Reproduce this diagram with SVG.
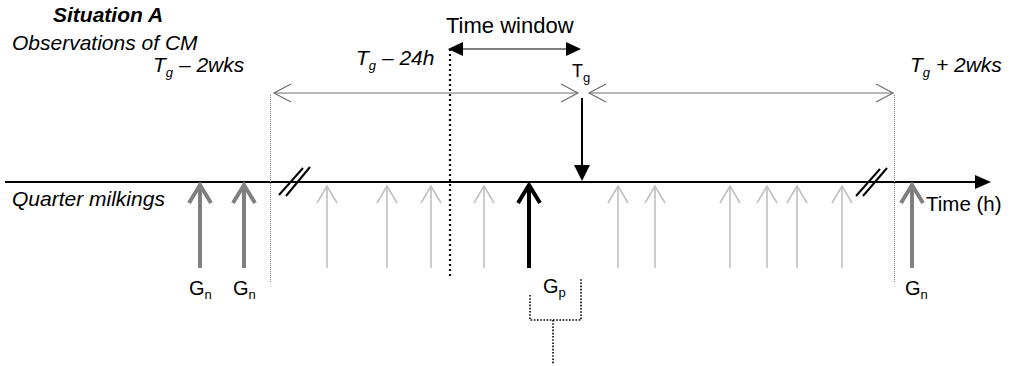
<svg xmlns="http://www.w3.org/2000/svg" width="1015" height="366" viewBox="0 0 1015 366">
<defs>
<style>
text{font-family:"Liberation Sans",Arial,sans-serif;fill:#000}
.it{font-style:italic;font-size:21px}
.lab{font-size:20px}
.sub{font-size:13px}
.gray{stroke:#6e6e6e;stroke-width:1.2;fill:none}
.open{fill:none;stroke-linecap:butt;stroke-linejoin:miter}
.dk{stroke:#808080;stroke-width:4}
.lt{stroke:#c0c0c0;stroke-width:1.6}
.bk{stroke:#000;stroke-width:4}
</style>
</defs>
<rect width="1015" height="366" fill="#fff"/>
<g id="labels">
<text x="53" y="22" class="it" font-weight="bold">Situation A</text>
<text x="12" y="50" class="it">Observations of CM</text>
<text x="12" y="206" class="it">Quarter milkings</text>
<text x="153" y="72" class="it">T<tspan class="sub" dy="5">g</tspan><tspan dy="-5"> – 2wks</tspan></text>
<text x="356" y="65" class="it">T<tspan class="sub" dy="5">g</tspan><tspan dy="-5"> – 24h</tspan></text>
<text x="910" y="72" class="it">T<tspan class="sub" dy="5">g</tspan><tspan dy="-5"> + 2wks</tspan></text>
<text x="446" y="33" font-size="22">Time window</text>
<text x="926" y="211" font-size="20.5">Time (h)</text>
</g>
<g id="connectors">
<line x1="5" y1="182" x2="977" y2="182" stroke="#000" stroke-width="2"/>
<polygon points="975,175 991,182 975,189" fill="#000"/>
<g stroke="#000" stroke-width="2">
<line x1="279" y1="195" x2="303" y2="168"/>
<line x1="286" y1="196" x2="310" y2="167"/>
<line x1="856" y1="196" x2="880" y2="169"/>
<line x1="863" y1="196" x2="887" y2="168"/>
</g>
<g class="gray">
<line x1="274" y1="93" x2="578" y2="93"/>
<polyline points="291,84 274,93 291,102"/>
<polyline points="561,84 578,93 561,102"/>
<line x1="589" y1="93" x2="893" y2="93"/>
<polyline points="606,84 589,93 606,102"/>
<polyline points="876,84 893,93 876,102"/>
</g>
<line x1="270.5" y1="95" x2="270.5" y2="283" stroke="#808080" stroke-width="1" stroke-dasharray="1,1"/>
<line x1="894.5" y1="95" x2="894.5" y2="283" stroke="#808080" stroke-width="1" stroke-dasharray="1,1"/>
<line x1="450" y1="49" x2="450" y2="277" stroke="#000" stroke-width="2.2" stroke-dasharray="2,3"/>
<line x1="460" y1="49" x2="569" y2="49" stroke="#000" stroke-width="1"/>
<polygon points="448,49 463,42 463,56" fill="#000"/>
<polygon points="581,49 566,42 566,56" fill="#000"/>
<line x1="582" y1="98" x2="582" y2="166" stroke="#000" stroke-width="2"/>
<polygon points="574,165 590,165 582,181" fill="#000"/>
<g stroke="#000" stroke-width="1.6" stroke-dasharray="1.6,1.6" fill="none">
<polyline points="530,295 530,320 581,320 581,279"/>
<line x1="553" y1="320" x2="553" y2="364"/>
</g>
</g>
<g id="milk-gn1"><line class="dk" x1="200" y1="186" x2="200" y2="268"/><polyline class="dk open" points="189,203 200,185 211,203"/><text x="189" y="295" class="lab">G<tspan class="sub" dy="4">n</tspan></text></g>
<g id="milk-gn2"><line class="dk" x1="244" y1="186" x2="244" y2="268"/><polyline class="dk open" points="233,203 244,185 255,203"/><text x="233" y="295" class="lab">G<tspan class="sub" dy="4">n</tspan></text></g>
<g id="milk-gn3"><line class="dk" x1="912" y1="186" x2="912" y2="268"/><polyline class="dk open" points="901,203 912,185 923,203"/><text x="905" y="295" class="lab">G<tspan class="sub" dy="4">n</tspan></text></g>
<g id="milk-gp"><line class="bk" x1="529" y1="186" x2="529" y2="268"/><polyline class="bk open" points="518,203 529,185 540,203"/><text x="543" y="293" class="lab">G<tspan class="sub" dy="4">p</tspan></text></g>
<g id="milk-light">
<g class="lt" fill="none">
<line x1="327" y1="187" x2="327" y2="268"/><polyline points="317,203 327,186 337,203"/>
<line x1="387" y1="187" x2="387" y2="268"/><polyline points="377,203 387,186 397,203"/>
<line x1="431" y1="187" x2="431" y2="268"/><polyline points="421,203 431,186 441,203"/>
<line x1="484" y1="187" x2="484" y2="268"/><polyline points="474,203 484,186 494,203"/>
<line x1="618" y1="187" x2="618" y2="268"/><polyline points="608,203 618,186 628,203"/>
<line x1="655" y1="187" x2="655" y2="268"/><polyline points="645,203 655,186 665,203"/>
<line x1="730" y1="187" x2="730" y2="268"/><polyline points="720,203 730,186 740,203"/>
<line x1="767" y1="187" x2="767" y2="268"/><polyline points="757,203 767,186 777,203"/>
<line x1="797" y1="187" x2="797" y2="268"/><polyline points="787,203 797,186 807,203"/>
<line x1="842" y1="187" x2="842" y2="268"/><polyline points="832,203 842,186 852,203"/>
</g>
</g>
<g id="tg-label"><text x="572" y="77" font-size="18">T<tspan class="sub" dy="5">g</tspan></text></g>
</svg>
